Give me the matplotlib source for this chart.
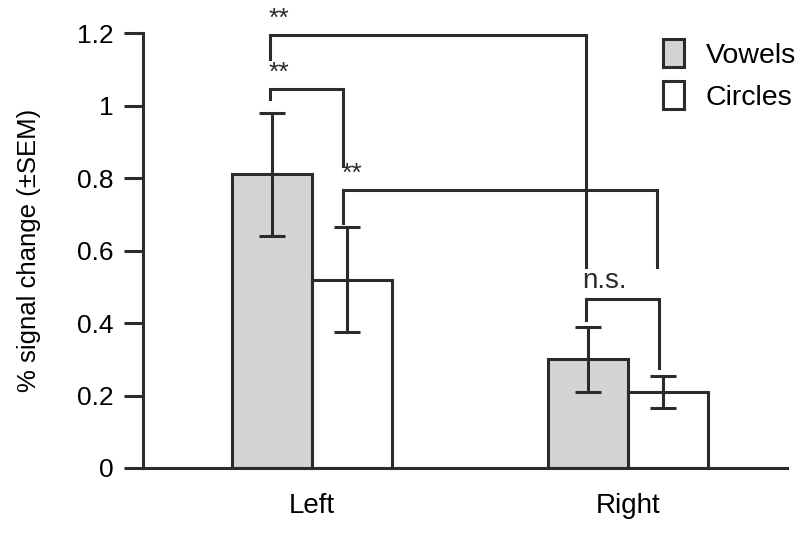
#!/usr/bin/env python3
"""Bar chart: % signal change for vowels vs circles, left vs right hemisphere."""

import matplotlib
matplotlib.use("Agg")
import matplotlib.pyplot as plt
import numpy as np
from matplotlib.patches import Patch

# ---- data ----
groups = ["Left", "Right"]
conditions = ["Vowels", "Circles"]
vowels_mean = [0.81, 0.30]
vowels_sem = [0.17, 0.09]
circles_mean = [0.52, 0.21]
circles_sem = [0.145, 0.045]

# significance brackets: left x, right x, top y, left-leg end, right-leg end, label
bracket_x_left = [-0.133, -0.133, 0.098, 0.867]
bracket_x_right = [0.867, 0.098, 1.092, 1.098]
bracket_y_top = [1.194, 1.046, 0.767, 0.466]
bracket_y_left = [1.128, 1.018, 0.676, 0.408]
bracket_y_right = [0.554, 0.833, 0.554, 0.276]
bracket_labels = ["**", "**", "**", "n.s."]

yticks = [0, 0.2, 0.4, 0.6, 0.8, 1.0, 1.2]
ytick_labels = ["0", "0.2", "0.4", "0.6", "0.8", "1", "1.2"]

INK = "#2b2b2b"
GRAY = "#d4d4d4"

plt.rcParams["font.family"] = ["Liberation Sans", "DejaVu Sans"]


def main():
    fig = plt.figure(figsize=(8.06, 5.37), dpi=100)
    ax = fig.add_axes([0.1774, 0.1285, 0.799, 0.81])

    x = np.arange(len(groups))
    w = 0.253
    lw = 2.2

    ax.bar(x - w / 2, vowels_mean, width=w, color=GRAY, edgecolor=INK,
           linewidth=lw, zorder=2)
    ax.bar(x + w / 2, circles_mean, width=w, color="white", edgecolor=INK,
           linewidth=lw, zorder=2)
    ax.errorbar(x - w / 2, vowels_mean, yerr=vowels_sem, fmt="none",
                ecolor=INK, elinewidth=lw, capsize=9.4, capthick=lw, zorder=3)
    ax.errorbar(x + w / 2 - 0.015, circles_mean, yerr=circles_sem, fmt="none",
                ecolor=INK, elinewidth=lw, capsize=9.4, capthick=lw, zorder=3)

    # significance brackets
    for xl, xr, yt, yl, yr, lab in zip(bracket_x_left, bracket_x_right,
                                       bracket_y_top, bracket_y_left,
                                       bracket_y_right, bracket_labels):
        ax.plot([xl, xl, xr, xr], [yl, yt, yt, yr], color=INK, lw=lw,
                clip_on=False, zorder=1, solid_joinstyle="miter")
        if lab == "**":
            ax.text(xl - 0.005, yt + 0.012, lab, ha="left", va="bottom",
                    fontsize=19, color=INK, clip_on=False)
        else:
            ax.text(xl - 0.012, yt + 0.015, lab, ha="left", va="bottom",
                    fontsize=20, color=INK, clip_on=False)

    ax.set_xlim(-0.535, 1.503)
    ax.set_ylim(0, 1.2)
    ax.set_yticks(yticks)
    ax.set_yticklabels(ytick_labels, fontsize=19)
    ax.tick_params(axis="y", length=14, width=lw, color=INK, pad=7,
                   direction="out")
    ax.set_xticks(x)
    ax.set_xticklabels(groups, fontsize=20)
    ax.tick_params(axis="x", length=0, pad=18)

    for side in ["top", "right"]:
        ax.spines[side].set_visible(False)
    for side in ["left", "bottom"]:
        ax.spines[side].set_linewidth(lw)
        ax.spines[side].set_color(INK)

    ax.set_ylabel("% signal change (\u00b1SEM)", fontsize=18.5, labelpad=26)

    handles = [
        Patch(facecolor=GRAY, edgecolor=INK, linewidth=lw, label=conditions[0]),
        Patch(facecolor="white", edgecolor=INK, linewidth=lw, label=conditions[1]),
    ]
    ax.legend(handles=handles, loc="upper left", bbox_to_anchor=(0.79, 1.012),
              frameon=False, fontsize=20.5, handlelength=0.75, handleheight=1.1,
              handletextpad=0.75, labelspacing=0.45, borderaxespad=0.0)

    fig.savefig("out.png", dpi=100, facecolor="white")
    plt.close(fig)


if __name__ == "__main__":
    main()
